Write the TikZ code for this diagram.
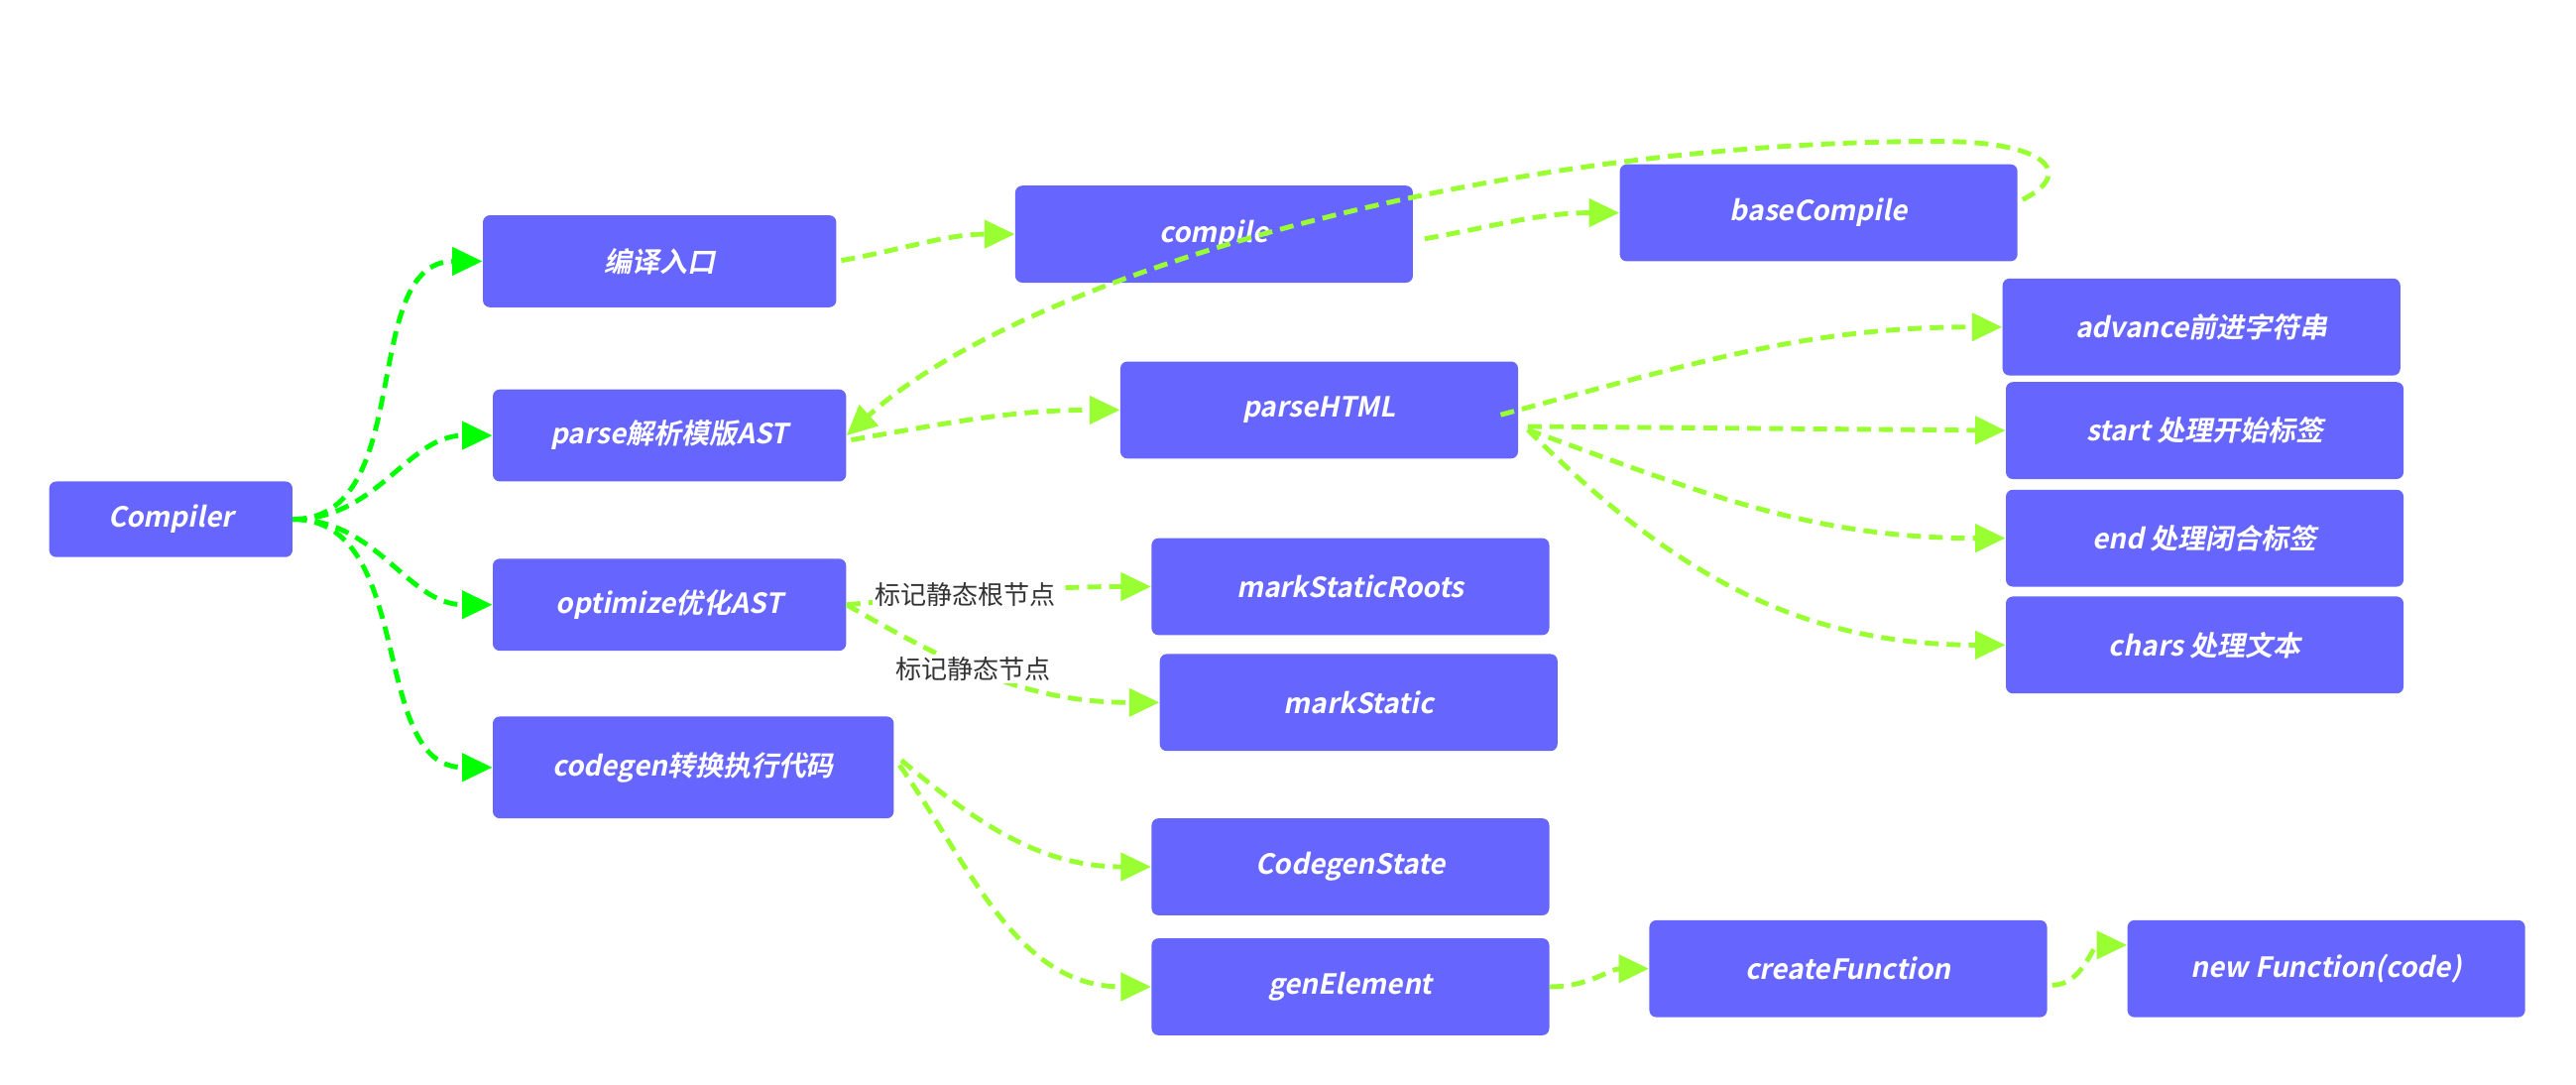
\documentclass[tikz,border=0pt]{standalone}
\usepackage{fontspec}
\setmainfont{Noto Sans CJK SC}
\newfontfamily\boxfont{Noto Sans CJK SC Bold}[FakeSlant=0.2]
\usetikzlibrary{arrows.meta, calc, positioning}
\definecolor{boxblue}{HTML}{6666FF}
\definecolor{rootgreen}{HTML}{00FF00}
\definecolor{limegreen}{HTML}{99FF33}

\begin{document}
\begin{tikzpicture}[
    x=0.025cm, y=-0.025cm,
    fn/.style={fill=boxblue, rounded corners=3pt, align=center,
        text=white, font=\boxfont\large,
        minimum width=6.05cm, minimum height=1.475cm},
    stepfn/.style={fn, minimum width=5.375cm, minimum height=1.4cm},
    flow/.style={-{Triangle[length=0.46cm, width=0.42cm]}, limegreen,
        line width=2.1pt, dash pattern=on 6pt off 3.5pt},
    rootflow/.style={flow, rootgreen},
    lab/.style={font=\fontsize{11.2}{13}\selectfont, text=black!80, fill=white, inner sep=1pt}
]
\useasboundingbox (0,0) rectangle (1568,660);
% left column
\node[fn, minimum width=3.7cm, minimum height=1.15cm] (C) at (104,316) {Compiler};
\node[stepfn] (entry) at (401.5,159) {编译入口};
\node[stepfn] (parse) at (407.5,265) {parse解析模版AST};
\node[stepfn] (opt) at (407.5,368) {optimize优化AST};
\node[fn, minimum width=6.1cm, minimum height=1.55cm] (cg) at (422,467) {codegen转换执行代码};
% middle
\node[fn] (comp) at (739,142.5) {compile};
\node[fn] (base) at (1107,129.5) {baseCompile};
\node[fn] (ph) at (803,249.5) {parseHTML};
\node[fn] (msr) at (822,357) {markStaticRoots};
\node[fn] (ms) at (827,427.5) {markStatic};
\node[fn] (cgs) at (822,527.5) {CodegenState};
\node[fn] (ge) at (822,600.5) {genElement};
\node[fn] (cf) at (1125,589.5) {createFunction};
\node[fn] (nf) at (1416,589.5) {new Function(code)};
% right column
\node[fn] (adv) at (1340,199) {advance前进字符串};
\node[fn] (st) at (1342,262) {start 处理开始标签};
\node[fn] (en) at (1342,327.5) {end 处理闭合标签};
\node[fn] (ch) at (1342,392.5) {chars 处理文本};

\draw[rootflow] (C.east) to[out=0,in=180] (entry.west);
\draw[rootflow] (C.east) to[out=0,in=180] (parse.west);
\draw[rootflow] (C.east) to[out=0,in=180] (opt.west);
\draw[rootflow] (C.east) to[out=0,in=180] (cg.west);

\draw[flow, shorten <=2pt] (entry.east) to[out=10,in=180] (comp.west);
\draw[flow, shorten <=5pt] ([yshift=-0.1cm]comp.east) to[out=10,in=180] (base.west);
\draw[flow] ([xshift=2pt,yshift=0.2cm]base.east) .. controls (1264,105) and (1245,86) .. (1180,86)
    .. controls (900,86) and (620,170) .. (parse.east);
\draw[flow, shorten <=2pt] ([yshift=-0.08cm]parse.east) to[out=10,in=180] (ph.west);

\draw[flow, shorten <=-8pt] (ph.east) to[out=15,in=180] (adv.west);
\draw[flow] ([xshift=4pt,yshift=-0.25cm]ph.east) -- (st.west);
\draw[flow] ([xshift=4pt,yshift=-0.3cm]ph.east) to[out=-20,in=180] (en.west);
\draw[flow] ([xshift=4pt,yshift=-0.3cm]ph.east) to[out=-45,in=180] (ch.west);

\draw[flow] (opt.east) to[out=5,in=180] node[lab, pos=0.38] {标记静态根节点} (msr.west);
\draw[flow] (opt.east) to[out=-30,in=180] node[lab, pos=0.42] {标记静态节点} (ms.west);

\draw[flow, shorten <=4pt] ([yshift=0.2cm]cg.east) to[out=-40,in=180] (cgs.west);
\draw[flow, shorten <=4pt] ([yshift=0.15cm]cg.east) to[out=-55,in=180] (ge.west);
\draw[flow] (ge.east) to[out=0,in=180] (cf.west);
\draw[flow, shorten <=2pt] ([yshift=-0.25cm]cf.east) to[out=0,in=180] ([yshift=0.36cm]nf.west);
\end{tikzpicture}
\end{document}
